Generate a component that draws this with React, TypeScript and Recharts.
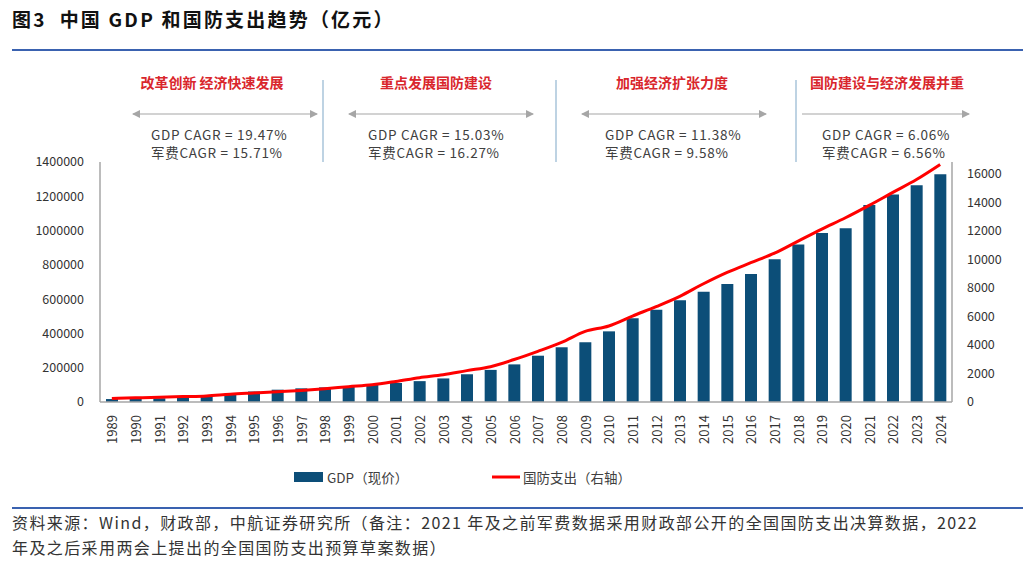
import React from 'react';
import { ComposedChart, Bar, Line, XAxis, YAxis } from 'recharts';

const years = [
  '1989', '1990', '1991', '1992', '1993', '1994', '1995', '1996', '1997', '1998', '1999', '2000',
  '2001', '2002', '2003', '2004', '2005', '2006', '2007', '2008', '2009', '2010', '2011', '2012',
  '2013', '2014', '2015', '2016', '2017', '2018', '2019', '2020', '2021', '2022', '2023', '2024',
];
// GDP (现价), 亿元
const gdp = [
  17180, 18873, 22006, 27195, 35673, 48638, 61340, 71814, 79715, 85196, 90564, 100280,
  110863, 121717, 137422, 161840, 187319, 219439, 270092, 319245, 348518, 412119, 487940, 538580,
  592963, 643563, 688858, 746395, 832036, 919281, 986515, 1013567, 1149237, 1210207, 1265000, 1328000,
];
// 国防支出, 亿元 (右轴)
const defense = [
  251, 290, 330, 378, 426, 551, 637, 720, 813, 935, 1076, 1208,
  1442, 1708, 1908, 2200, 2475, 2979, 3555, 4179, 4951, 5333, 6028, 6692,
  7411, 8290, 9088, 9766, 10432, 11280, 12122, 12919, 13787, 14700, 15600, 16655,
];
const leftTicks = [0, 200000, 400000, 600000, 800000, 1000000, 1200000, 1400000];
const rightTicks = [0, 2000, 4000, 6000, 8000, 10000, 12000, 14000, 16000];

const phases = [
  { title: '改革创新 经济快速发展', gdp: '19.47%', mil: '15.71%' },
  { title: '重点发展国防建设', gdp: '15.03%', mil: '16.27%' },
  { title: '加强经济扩张力度', gdp: '11.38%', mil: '9.58%' },
  { title: '国防建设与经济发展并重', gdp: '6.06%', mil: '6.56%' },
];

const data = years.map((y, i) => ({ year: y, gdp: gdp[i], defense: defense[i] }));

const FONT = '"Noto Sans CJK SC", "Noto Sans", sans-serif';
const BAR = '#0C4E78';
const AXIS = '#A6A6A6';

const YearTick = (props: any) => {
  const { x, y, payload } = props;
  return (
    <text
      x={x}
      y={y}
      transform={`rotate(-90 ${x} ${y})`}
      textAnchor="end"
      dominantBaseline="central"
      fontSize={13}
      fontFamily={FONT}
      fill="#333"
    >
      {payload.value}
    </text>
  );
};

// overlay positions for the phase annotations
const headX = [212, 436, 672, 887];
const textX = [151, 368, 605, 822];
const arrows = [
  [133, 317, true],
  [349, 533, true],
  [582, 766, true],
  [802, 969, false],
] as const;
const seps = [323, 556, 796];

export default function App() {
  return (
    <div style={{ position: 'fixed', left: 0, top: 0, width: 1023, height: 562, background: '#fff', fontFamily: FONT }}>
      <div style={{ position: 'absolute', left: 12, top: 5, fontSize: 19, letterSpacing: 2.2, fontWeight: 700, color: '#111', whiteSpace: 'nowrap' }}>
        图3&nbsp;&nbsp;中国 GDP 和国防支出趋势（亿元）
      </div>
      <div style={{ position: 'absolute', left: 12, top: 49, width: 1011, height: 2, background: '#3A62B0' }} />

      <div style={{ position: 'absolute', left: 0, top: 0 }}>
        <ComposedChart width={1023} height={562} data={data} margin={{ top: 162, right: 0, bottom: 100, left: 0 }}>
          <XAxis
            dataKey="year"
            interval={0}
            height={60}
            tickLine={false}
            tickMargin={7}
            axisLine={{ stroke: AXIS, strokeWidth: 1.5 }}
            tick={<YearTick />}
          />
          <YAxis
            yAxisId="left"
            orientation="left"
            width={100}
            domain={[0, 1400000]}
            ticks={leftTicks}
            interval={0}
            tickLine={false}
            tickMargin={10}
            axisLine={{ stroke: AXIS, strokeWidth: 1.5 }}
            tick={{ fontSize: 12.5, fill: '#333', fontFamily: FONT }}
          />
          <YAxis
            yAxisId="right"
            orientation="right"
            width={71}
            domain={[0, 16830]}
            ticks={rightTicks}
            interval={0}
            tickLine={false}
            tickMargin={9}
            axisLine={{ stroke: AXIS, strokeWidth: 1.5 }}
            tick={{ fontSize: 12.5, fill: '#333', fontFamily: FONT, textAnchor: 'start' }}
          />
          <Bar yAxisId="left" dataKey="gdp" fill={BAR} barSize={12} isAnimationActive={false} />
          <Line
            yAxisId="right"
            dataKey="defense"
            type="monotone"
            stroke="#FF0000"
            strokeWidth={3}
            dot={false}
            activeDot={false}
            isAnimationActive={false}
          />
        </ComposedChart>
      </div>

      <svg width={1023} height={562} style={{ position: 'absolute', left: 0, top: 0, pointerEvents: 'none' }}>
        <defs>
          <marker id="ah" markerWidth="8" markerHeight="8" refX="7" refY="4" orient="auto-start-reverse" markerUnits="userSpaceOnUse">
            <path d="M0,0 L8,4 L0,8 Z" fill="#A6A6A6" />
          </marker>
        </defs>
        {seps.map((x) => (
          <line key={x} x1={x} x2={x} y1={80} y2={162} stroke="#A9C4DA" strokeWidth={1.5} />
        ))}
        {arrows.map(([x1, x2, both], i) => (
          <line
            key={i}
            x1={x1}
            x2={x2}
            y1={114}
            y2={114}
            stroke="#A6A6A6"
            strokeWidth={1.2}
            markerEnd="url(#ah)"
            markerStart={both ? 'url(#ah)' : undefined}
          />
        ))}
        {phases.map((p, i) => (
          <g key={i} fontFamily={FONT}>
            <text x={headX[i]} y={82} textAnchor="middle" dominantBaseline="central" fontSize={14} fontWeight={700} fill="#D9262C">
              {p.title}
            </text>
            <text x={textX[i]} y={134} dominantBaseline="central" fontSize={13.5} letterSpacing={0.7} fill="#404040">
              GDP CAGR = {p.gdp}
            </text>
            <text x={textX[i]} y={152} dominantBaseline="central" fontSize={13.5} letterSpacing={0.7} fill="#404040">
              军费CAGR = {p.mil}
            </text>
          </g>
        ))}
        <rect x={294} y={472} width={29} height={10} fill={BAR} />
        <text x={327} y={477} dominantBaseline="central" fontSize={13.5} fill="#404040" fontFamily={FONT}>
          GDP（现价）
        </text>
        <line x1={492} x2={520} y1={477} y2={477} stroke="#FF0000" strokeWidth={3} />
        <text x={523} y={477} dominantBaseline="central" fontSize={13.5} fill="#404040" fontFamily={FONT}>
          国防支出（右轴）
        </text>
      </svg>

      <div style={{ position: 'absolute', left: 12, top: 507, width: 1011, height: 1.5, background: '#3A62B0' }} />
      <div style={{ position: 'absolute', left: 12, top: 510, fontSize: 16, letterSpacing: 1.4, lineHeight: '25px', color: '#333', whiteSpace: 'nowrap' }}>
        资料来源：Wind，财政部，中航证券研究所（备注：2021 年及之前军费数据采用财政部公开的全国国防支出决算数据，2022
        <br />
        年及之后采用两会上提出的全国国防支出预算草案数据）
      </div>
    </div>
  );
}
